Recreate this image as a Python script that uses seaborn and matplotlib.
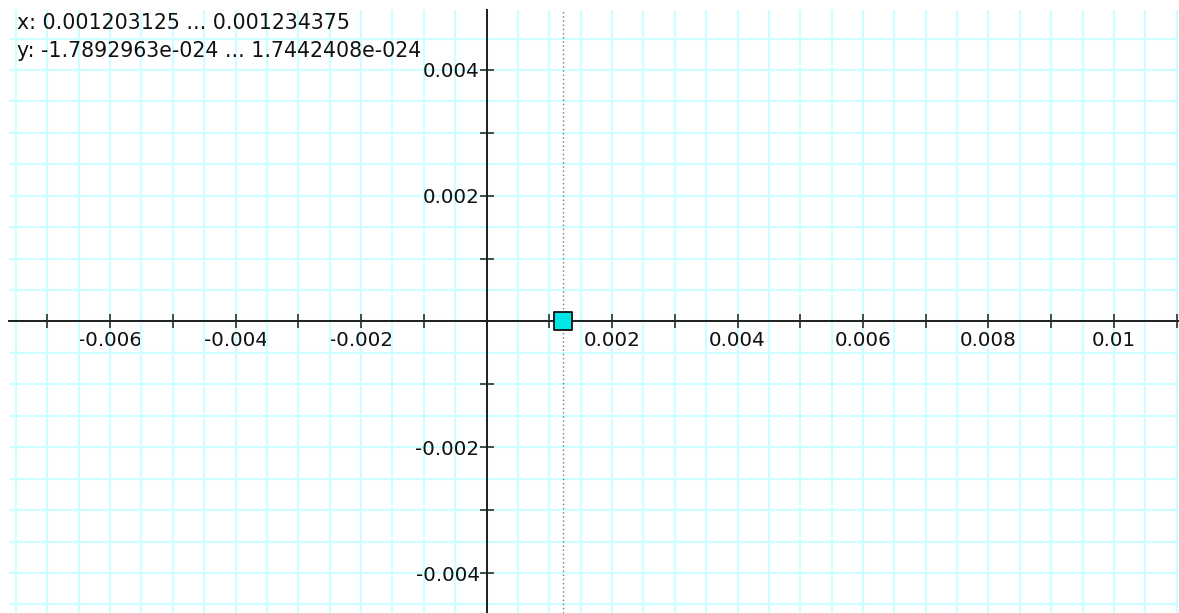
import numpy as np
import pandas as pd
import matplotlib
matplotlib.use("Agg")
import matplotlib.pyplot as plt
import seaborn as sns

# ---- data ----
x_range = [0.001203125, 0.001234375]
y_range = [-1.7892963e-024, 1.7442408e-024]
point_x = [0.00121875]
point_y = [0.0]
x_ticks = [-0.007, -0.006, -0.005, -0.004, -0.003, -0.002, -0.001, 0.0,
           0.001, 0.002, 0.003, 0.004, 0.005, 0.006, 0.007, 0.008, 0.009, 0.010, 0.011]
x_tick_labels = ["", "-0.006", "", "-0.004", "", "-0.002", "", "",
                 "", "0.002", "", "0.004", "", "0.006", "", "0.008", "", "0.01", ""]
y_ticks = [-0.004, -0.003, -0.002, -0.001, 0.0, 0.001, 0.002, 0.003, 0.004]
y_tick_labels = ["-0.004", "", "-0.002", "", "", "", "0.002", "", "0.004"]
info_lines = ["x: 0.001203125 ... 0.001234375",
              "y: -1.7892963e-024 ... 1.7442408e-024"]

sns.set_style("white")
plt.rcParams["font.family"] = ["DejaVu Sans"]
plt.rcParams["axes.unicode_minus"] = False

W, H = 1179, 613
fig = plt.figure(figsize=(W / 100, H / 100), dpi=100)
ax = fig.add_axes([9 / W, 0, (W - 9) / W, (H - 10) / H])

ax.set_xlim(-0.00761, 0.011036)
ax.set_ylim(-0.004636, 0.004954)

# grid
ax.set_xticks(x_ticks)
ax.set_xticklabels(x_tick_labels)
ax.set_yticks(y_ticks)
ax.set_yticklabels(y_tick_labels)
ax.set_xticks(np.arange(-0.0075, 0.0111, 0.0005), minor=True)
ax.set_yticks(np.arange(-0.0045, 0.0050, 0.0005), minor=True)
ax.grid(True, which="both", color="#ccffff", linewidth=1.5, zorder=0)
ax.set_axisbelow(True)

# spines at origin
for s in ["top", "right"]:
    ax.spines[s].set_visible(False)
ax.spines["left"].set_position(("data", 0))
ax.spines["bottom"].set_position(("data", 0))
for s in ["left", "bottom"]:
    ax.spines[s].set_color("#1e1e1e")
    ax.spines[s].set_linewidth(1.4)
    ax.spines[s].set_zorder(2)

ax.tick_params(which="major", direction="inout", length=10, width=1.1,
               color="#1e1e1e", labelsize=14.3, labelcolor="#111111",
               bottom=True, left=True, top=False, right=False)
ax.tick_params(axis="y", which="major", pad=0)
ax.tick_params(axis="x", which="major", pad=2)
ax.tick_params(which="minor", length=0)

# cursor line
ax.axvline(point_x[0], color="#7a7a7a", linestyle=(0, (1, 2)), linewidth=1.0, zorder=1)

# point
df = pd.DataFrame({"x": point_x, "y": point_y})
sns.scatterplot(data=df, x="x", y="y", marker="s", s=170, color="#00e5e5",
                edgecolor="#111111", linewidth=1.3, ax=ax, zorder=5, legend=False)
ax.set_xlabel("")
ax.set_ylabel("")

# info text
fig.text(17 / W, 1 - 29 / H, info_lines[0], fontsize=14.8, color="#111111",
         ha="left", va="baseline")
fig.text(17 / W, 1 - 57 / H, info_lines[1], fontsize=14.8, color="#111111",
         ha="left", va="baseline")

fig.savefig("out.png", dpi=100, facecolor="white")
